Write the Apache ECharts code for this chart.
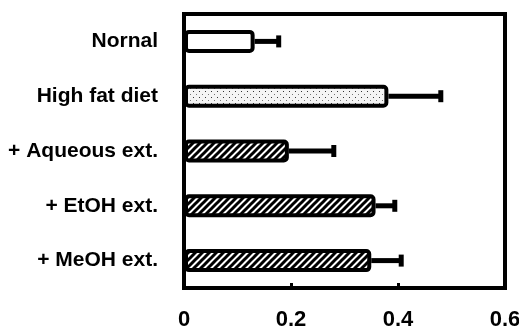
<!DOCTYPE html>
<html>
<head>
<meta charset="utf-8">
<script src="https://cdn.jsdelivr.net/npm/echarts@6/dist/echarts.min.js"></script>
<style>html,body{margin:0;padding:0;background:#fff}#c{width:519px;height:334px}</style>
</head>
<body>
<div id="c"></div>
<script>
var categories = ['Nornal', 'High fat diet', '+ Aqueous ext.', '+ EtOH ext.', '+ MeOH ext.'];
var means = [0.132, 0.382, 0.196, 0.358, 0.350];
var errorTops = [0.177, 0.480, 0.280, 0.394, 0.406];
var fills = ['plain', 'dots', 'hatch', 'hatch', 'hatch'];
var xTicks = [0, 0.2, 0.4, 0.6];

function makeDots() {
  var c = document.createElement('canvas');
  c.width = 6; c.height = 6;
  var g = c.getContext('2d');
  g.fillStyle = '#f4f4f4'; g.fillRect(0, 0, 6, 6);
  g.fillStyle = '#333';
  g.fillRect(1, 1, 1, 1);
  g.fillStyle = '#777';
  g.fillRect(4, 4, 1, 1);
  return c;
}
function makeHatch() {
  var s = 7;
  var c = document.createElement('canvas');
  c.width = s; c.height = s;
  var g = c.getContext('2d');
  g.fillStyle = '#fff'; g.fillRect(0, 0, s, s);
  g.strokeStyle = '#000'; g.lineWidth = 3;
  g.beginPath();
  g.moveTo(-2, s + 2); g.lineTo(s + 2, -2);
  g.moveTo(-2, 2); g.lineTo(2, -2);
  g.moveTo(s - 2, s + 2); g.lineTo(s + 2, s - 2);
  g.stroke();
  return c;
}
var dotPat = makeDots(), hatchPat = makeHatch();
function fillFor(k) {
  if (k === 'dots') return { image: dotPat, repeat: 'repeat' };
  if (k === 'hatch') return { image: hatchPat, repeat: 'repeat' };
  return '#fff';
}

var barData = means.map(function (v, i) {
  return { value: v, itemStyle: { color: fillFor(fills[i]) } };
});
var errData = means.map(function (v, i) { return [i, v, errorTops[i]]; });

var chart = echarts.init(document.getElementById('c'), null, { renderer: 'canvas' });
chart.setOption({
  animation: false,
  grid: { left: 184, right: 14, top: 14, bottom: 46, outerBoundsMode: 'none', containLabel: false, show: true, borderColor: '#000', borderWidth: 4, backgroundColor: 'transparent' },
  xAxis: {
    type: 'value', min: 0, max: 0.6, interval: 0.2,
    axisLine: { show: true, lineStyle: { color: '#000', width: 4 } },
    axisTick: { show: true, inside: true, length: 5, lineStyle: { color: '#000', width: 3 } },
    splitLine: { show: false },
    axisLabel: {
      margin: 21, color: '#000', fontFamily: 'Liberation Sans, Arial, sans-serif', fontWeight: 'bold', fontSize: 22,
      formatter: function (v) { var t = xTicks.filter(function (x) { return Math.abs(x - v) < 1e-9; }); return t.length ? String(t[0]) : ''; }
    }
  },
  yAxis: {
    type: 'category', data: categories, inverse: true,
    axisLine: { show: true, lineStyle: { color: '#000', width: 4 } },
    axisTick: { show: false },
    axisLabel: { margin: 26, color: '#000', fontFamily: 'Liberation Sans, Arial, sans-serif', fontWeight: 'bold', fontSize: 21 }
  },
  series: [
    {
      type: 'bar', data: barData, barWidth: 23, z: 3,
      itemStyle: { borderColor: '#000', borderWidth: 4, borderRadius: 3 }
    },
    {
      type: 'custom', z: 2,
      data: errData,
      encode: { x: [1, 2], y: 0 },
      renderItem: function (params, api) {
        var cat = api.value(0);
        var p0 = api.coord([api.value(1), cat]);
        var p1 = api.coord([api.value(2), cat]);
        return {
          type: 'group',
          children: [
            { type: 'line', shape: { x1: p0[0], y1: p0[1], x2: p1[0], y2: p1[1] }, style: { stroke: '#000', lineWidth: 5 } },
            { type: 'line', shape: { x1: p1[0], y1: p1[1] - 6, x2: p1[0], y2: p1[1] + 6 }, style: { stroke: '#000', lineWidth: 5 } }
          ]
        };
      }
    }
  ]
});
</script>
</body>
</html>
